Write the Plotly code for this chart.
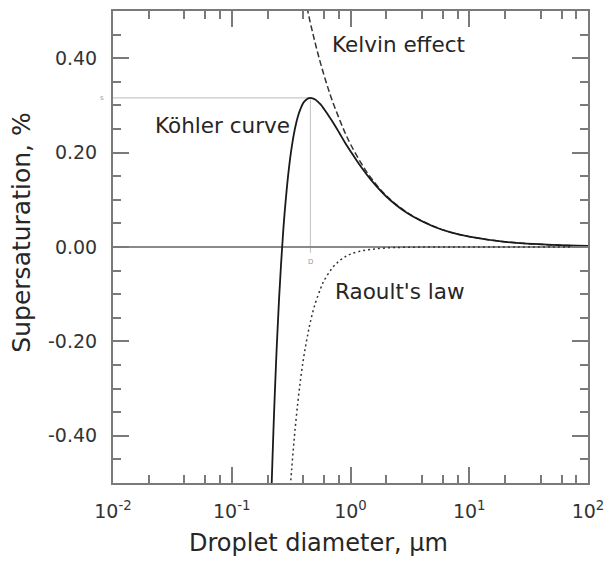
import plotly.graph_objects as go

# ---- data ----
kohler_d = [0.217, 0.22, 0.225, 0.23, 0.24, 0.25, 0.26, 0.27, 0.28, 0.30, 0.32, 0.34, 0.36,
            0.38, 0.40, 0.42, 0.44, 0.46, 0.48, 0.50, 0.53, 0.56, 0.60, 0.65, 0.70, 0.80,
            0.90, 1.0, 1.2, 1.5, 2.0, 3.0, 5.0, 7.0, 10.0, 20.0, 50.0, 100.0]
kohler_s = [-0.501, -0.454, -0.381, -0.316, -0.204, -0.112, -0.037, 0.026, 0.078, 0.157,
            0.212, 0.250, 0.276, 0.293, 0.305, 0.311, 0.315, 0.316, 0.315, 0.313, 0.308,
            0.302, 0.292, 0.279, 0.267, 0.243, 0.221, 0.203, 0.173, 0.141, 0.107, 0.072,
            0.0435, 0.031, 0.022, 0.011, 0.0044, 0.0022]

kelvin_d = [0.43, 0.44, 0.46, 0.48, 0.50, 0.53, 0.56, 0.60, 0.65, 0.70, 0.80, 0.90, 1.0,
            1.2, 1.5, 2.0, 3.0, 5.0, 7.0, 10.0, 20.0, 50.0, 100.0]
kelvin_s = [0.507, 0.496, 0.474, 0.454, 0.436, 0.411, 0.389, 0.363, 0.335, 0.311, 0.273,
            0.242, 0.218, 0.182, 0.145, 0.109, 0.073, 0.044, 0.031, 0.022, 0.011, 0.0044,
            0.0022]

raoult_d = [0.31, 0.32, 0.33, 0.34, 0.36, 0.38, 0.40, 0.42, 0.44, 0.46, 0.50, 0.56, 0.60,
            0.70, 0.80, 0.90, 1.0, 1.2, 1.5, 2.0, 3.0, 5.0, 10.0, 100.0]
raoult_s = [-0.516, -0.469, -0.428, -0.391, -0.330, -0.280, -0.240, -0.208, -0.181,
            -0.158, -0.123, -0.088, -0.071, -0.045, -0.030, -0.021, -0.015, -0.009,
            -0.005, -0.002, -0.0006, -0.0001, 0.0, 0.0]

peak_d = 0.46
peak_s = 0.316

x_tickvals = [0.01, 0.1, 1, 10, 100]
x_ticktext = ["10<sup>-2</sup>", "10<sup>-1</sup>", "10<sup>0</sup>", "10<sup>1</sup>", "10<sup>2</sup>"]
x_minor = [m * 10.0 ** e for e in (-2, -1, 0, 1) for m in (2, 4, 6, 8)]
y_tickvals = [-0.4, -0.2, 0.0, 0.2, 0.4]
y_ticktext = ["-0.40", "-0.20", "0.00", "0.20", "0.40"]

FONT = "DejaVu Sans"
AX = "#7a7a7a"
TXT = "#262626"

fig = go.Figure()
fig.add_trace(go.Scatter(x=kelvin_d, y=kelvin_s, mode="lines", line_shape="spline",
                         line=dict(color="#333333", width=1.5, dash="6px,3px")))
fig.add_trace(go.Scatter(x=raoult_d, y=raoult_s, mode="lines", line_shape="spline",
                         line=dict(color="#333333", width=1.5, dash="2px,3px")))
fig.add_trace(go.Scatter(x=kohler_d, y=kohler_s, mode="lines", line_shape="spline",
                         line=dict(color="#1a1a1a", width=1.8)))

# guide lines to the critical point
fig.add_shape(type="line", xref="x", yref="y", x0=0.01, x1=peak_d, y0=peak_s, y1=peak_s,
              line=dict(color="#c8c8c8", width=1.2), layer="below")
fig.add_shape(type="line", xref="x", yref="y", x0=peak_d, x1=peak_d, y0=peak_s, y1=-0.012,
              line=dict(color="#c8c8c8", width=1.2), layer="below")

ann = [
    dict(text="Kelvin effect", x=0.403, y=0.428),
    dict(text="Köhler curve", x=-1.082, y=0.258),
    dict(text="Raoult's law", x=0.421, y=-0.095),
]
for a in ann:
    fig.add_annotation(text=a["text"], x=a["x"], y=a["y"], xref="x", yref="y",
                       showarrow=False, font=dict(family=FONT, size=21.5, color=TXT),
                       xanchor="center", yanchor="middle")

# tiny S_c / D_c markers
fig.add_annotation(text="s", x=(98 - 113) / 475, y=peak_s, xref="paper", yref="y",
                   showarrow=False, font=dict(family=FONT, size=7, color="#999999"))
fig.add_annotation(text="D", x=-0.337, y=-0.032, xref="x", yref="y",
                   showarrow=False, font=dict(family=FONT, size=7, color="#999999"))

# axis titles
fig.add_annotation(text="Droplet diameter, µm", x=0.432, y=-0.127, xref="paper", yref="paper",
                   showarrow=False, font=dict(family=FONT, size=24, color=TXT),
                   xanchor="center", yanchor="middle")
fig.add_annotation(text="Supersaturation, %", x=-0.192, y=0.530, xref="paper", yref="paper",
                   showarrow=False, textangle=-90, font=dict(family=FONT, size=25, color=TXT),
                   xanchor="center", yanchor="middle")

fig.update_xaxes(type="log", range=[-2, 2], tickvals=x_tickvals, ticktext=x_ticktext,
                 ticks="inside", ticklen=16, tickwidth=1.5, tickcolor=AX,
                 minor=dict(tickvals=x_minor, ticks="inside", ticklen=8, tickwidth=1.5,
                            tickcolor=AX, showgrid=False),
                 showline=True, linecolor=AX, linewidth=2, mirror="allticks",
                 showgrid=False, zeroline=False, ticklabelstandoff=10, automargin=False,
                 tickfont=dict(family=FONT, size=19, color="#333333"))
fig.update_yaxes(range=[-0.5, 0.5], tickvals=y_tickvals, ticktext=y_ticktext,
                 ticks="inside", ticklen=16, tickwidth=1.5, tickcolor=AX,
                 minor=dict(dtick=0.05, tick0=0, ticks="inside", ticklen=8, tickwidth=1.5,
                            tickcolor=AX, showgrid=False),
                 showline=True, linecolor=AX, linewidth=2, mirror="allticks",
                 showgrid=False, zeroline=True, zerolinecolor="#8a8a8a", zerolinewidth=1.5,
                 ticklabelstandoff=10, automargin=False,
                 tickfont=dict(family=FONT, size=19, color="#333333"))

fig.update_layout(width=605, height=561, showlegend=False,
                  margin=dict(l=113, r=17, t=11, b=78, autoexpand=False),
                  paper_bgcolor="white", plot_bgcolor="white",
                  font=dict(family=FONT))

fig.write_html("out.html", config={"displayModeBar": False},
               post_script="document.body.style.margin='0px';document.body.style.padding='0px';")
